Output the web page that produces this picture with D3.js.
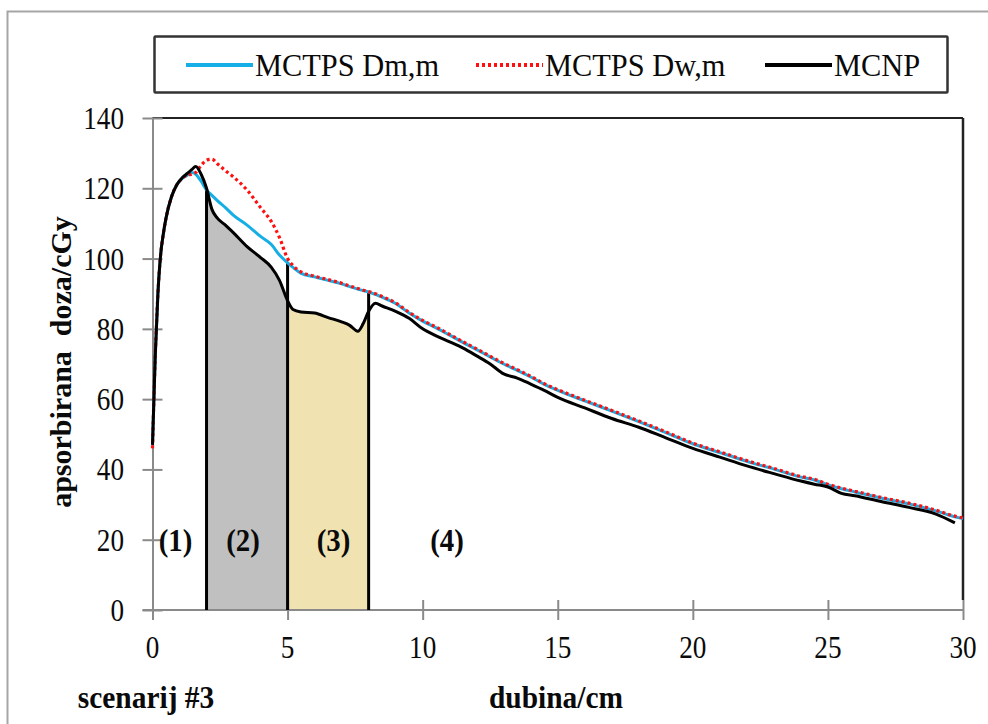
<!DOCTYPE html>
<html>
<head>
  <meta charset="utf-8">
  <title>scenarij #3 - apsorbirana doza</title>
  <script src="https://d3js.org/d3.v7.min.js"></script>
  <style>
    body { margin: 0; background: #fff; }
    svg text { fill: #0a0a0a; }
  </style>
</head>
<body>
  <div id="chart"></div>
  <script>
    // depth (cm) shared by all three series
    const depth = [0, 0.1, 0.2, 0.3, 0.4, 0.5, 0.7, 0.9, 1.1, 1.3, 1.45, 1.6, 1.8, 2.0, 2.2, 2.4, 2.7, 3.0, 3.5, 4.0,
      4.4, 4.7, 5.0, 5.2, 5.5, 6.0, 6.5, 7.0, 7.3, 7.6, 7.8, 8.0, 8.25, 8.5, 9.0, 9.5, 10, 10.5, 11, 11.5,
      12, 12.5, 13, 13.5, 14, 14.5, 15, 16, 17, 18, 19, 20, 21, 22, 23, 24, 24.5, 25, 25.5, 26,
      27, 28, 29, 29.7, 30];

    const mctpsDm = [47, 72, 90, 101, 107, 111.5, 117.5, 121, 122.8, 123.8, 124.5, 124, 122, 119.5, 118, 116.5, 114.5, 112.3, 109.5, 106.3,
      104, 101, 98.8, 97.5, 95.8, 94.8, 93.8, 92.8, 92, 91.3, 90.9, 90.5, 89.8, 89, 87.2, 84.5, 82.2, 80.3, 78.2, 76.1,
      74.1, 72, 70, 68.2, 66.3, 64.2, 62.5, 59.5, 56.6, 53.6, 50.5, 47.3, 44.8, 42.3, 40.1, 37.8, 37, 35.6, 34.5, 33.6,
      31.8, 30.2, 28.2, 26.5, 26];

    const mctpsDw = [46, 72, 90, 101, 107, 111.5, 117.5, 121, 122.8, 123.8, 124, 124.5, 126.5, 128, 128.3, 127, 125, 123.2, 119.5, 114.5,
      110.5, 106, 100, 98, 96.2, 95, 94, 93, 92.2, 91.5, 91, 90.6, 90, 89.2, 87.4, 84.7, 82.4, 80.5, 78.4, 76.3,
      74.3, 72.2, 70.2, 68.4, 66.5, 64.4, 62.7, 59.7, 56.8, 53.8, 50.7, 47.5, 45, 42.5, 40.3, 38, 37.2, 35.8, 34.7, 33.8,
      32, 30.4, 28.4, 26.7, 26.2];

    const mcnp = [47, 72, 90, 101, 107, 111.5, 117.5, 121, 123, 124.3, 125.3, 126.2, 124, 120, 114, 111.5, 109.5, 107.3, 103.4, 100.3,
      97.5, 93.8, 88, 85.5, 84.8, 84.5, 83.2, 82, 81, 79.3, 81.5, 85, 87.3, 86.5, 85, 83, 80, 78, 76.3, 74.5,
      72.3, 70, 67.2, 66, 64.3, 62.5, 60.5, 57.5, 54.5, 52, 49, 46, 43.5, 41, 38.8, 36.7, 35.8, 35, 33.2, 32.5,
      30.8, 29.2, 27.3, 24.8, null];

    const xTicks = [0, 5, 10, 15, 20, 25, 30];
    const yTicks = [0, 20, 40, 60, 80, 100, 120, 140];
    const layerBounds = [2, 5, 8];
    const regionLabels = ["(1)", "(2)", "(3)", "(4)"];
    const regionLabelX = [0.85, 3.35, 6.7, 10.9];
    const seriesNames = ["MCTPS Dm,m", "MCTPS Dw,m", "MCNP"];

    const width = 988, height = 724;
    const serif = "'Liberation Serif', 'Times New Roman', 'DejaVu Serif', serif";
    const svg = d3.select("#chart").append("svg").attr("width", width).attr("height", height);

    const x = d3.scaleLinear().domain([0, 30]).range([152.5, 963]);
    const y = d3.scaleLinear().domain([0, 140]).range([610, 118]);

    const blue = "#15aee6", red = "#ff1010", black = "#000";
    const axisGray = "#8a8a8a";

    // outer frame (only left and top visible)
    svg.append("path").attr("d", "M7.5,724V11.5H988").attr("fill", "none").attr("stroke", "#a6a6a6").attr("stroke-width", 2);

    const pts = name => depth.map((d, i) => ({ x: d, v: name[i] }));
    const black_pts = pts(mcnp);

    // shaded layers under the MCNP curve
    const area = d3.area().x(d => x(d.x)).y0(y(0)).y1(d => y(d.v)).curve(d3.curveMonotoneX);
    const fills = [["#c0c0c0", 2, 5], ["#f1e2b1", 5, 8]];
    fills.forEach(([c, a, b]) => {
      svg.append("path")
        .datum(black_pts.filter(d => d.x >= a && d.x <= b && d.v != null))
        .attr("d", area).attr("fill", c);
    });

    // plot frame top + right (black)
    svg.append("line").attr("x1", x(0)).attr("x2", x(30)).attr("y1", y(140)).attr("y2", y(140))
      .attr("stroke", "#222").attr("stroke-width", 2);
    svg.append("line").attr("x1", x(30)).attr("x2", x(30)).attr("y1", y(140)).attr("y2", y(0) - 10)
      .attr("stroke", "#222").attr("stroke-width", 2.5);

    // axes (gray lines with crossing ticks)
    const xAxis = svg.append("g").attr("transform", `translate(0,${y(0)})`)
      .call(d3.axisBottom(x).tickValues(xTicks).tickSize(10).tickSizeOuter(0).tickFormat(""));
    xAxis.selectAll(".tick line").attr("y1", -10);
    const yAxis = svg.append("g").attr("transform", `translate(${x(0)},0)`)
      .call(d3.axisLeft(y).tickValues(yTicks).tickSize(10).tickSizeOuter(0).tickFormat(""));
    yAxis.selectAll(".tick line").attr("x1", 10);
    svg.selectAll(".domain, .tick line").attr("stroke", axisGray).attr("stroke-width", 2);
    xAxis.select(".domain").attr("d", `M${x(0) - 10},0H${x(30)}`);

    // layer boundary lines
    layerBounds.forEach(b => {
      const i = depth.indexOf(b);
      const top = b === 2 ? mcnp[i] : mctpsDm[i];
      svg.append("line").attr("x1", x(b)).attr("x2", x(b)).attr("y1", y(0)).attr("y2", y(top))
        .attr("stroke", black).attr("stroke-width", 3);
    });

    // curves
    const line = d3.line().defined(d => d.v != null).x(d => x(d.x)).y(d => y(d.v)).curve(d3.curveMonotoneX);
    svg.append("path").datum(pts(mctpsDm)).attr("d", line).attr("fill", "none")
      .attr("stroke", blue).attr("stroke-width", 3);
    svg.append("path").datum(pts(mctpsDw)).attr("d", line).attr("fill", "none")
      .attr("stroke", red).attr("stroke-width", 3.2).attr("stroke-dasharray", "3,3");
    svg.append("path").datum(black_pts).attr("d", line).attr("fill", "none")
      .attr("stroke", black).attr("stroke-width", 3).attr("stroke-linejoin", "round");

    // condensed text helper (reference type is narrow)
    function label(txt, px, py, opts) {
      const o = Object.assign({ size: 32, sx: 0.85, anchor: "middle", bold: false }, opts);
      return svg.append("text")
        .attr("transform", `translate(${px},${py}) scale(${o.sx},1)`)
        .attr("text-anchor", o.anchor)
        .attr("font-family", serif)
        .attr("font-size", o.size)
        .attr("font-weight", o.bold ? "bold" : "normal")
        .text(txt);
    }

    yTicks.forEach(t => label(t, 124, y(t) + 11, { anchor: "end" }));
    xTicks.forEach(t => label(t, x(t), 658));

    regionLabels.forEach((t, i) => label(t, x(regionLabelX[i]), y(20) + 11, { bold: true, sx: 0.9 }));

    label("dubina/cm", 556, 708, { bold: true, sx: 0.92 });
    label("scenarij #3", 146, 708, { bold: true, sx: 0.92 });

    svg.append("text")
      .attr("transform", "translate(71,362) rotate(-90)")
      .attr("text-anchor", "middle").attr("font-size", 30).attr("font-weight", "bold")
      .attr("font-family", serif)
      .attr("xml:space", "preserve")
      .text("apsorbirana  doza/cGy");

    // legend
    const lg = svg.append("g");
    lg.append("rect").attr("x", 154.5).attr("y", 36.5).attr("width", 793).attr("height", 56)
      .attr("fill", "#fff").attr("stroke", "#333").attr("stroke-width", 2.5).attr("rx", 1);
    const legendX = [186, 476, 765];
    const legendStyle = [
      { stroke: blue, dash: null, w: 4 },
      { stroke: red, dash: "3,3", w: 4 },
      { stroke: black, dash: null, w: 4 }
    ];
    seriesNames.forEach((n, i) => {
      lg.append("line").attr("x1", legendX[i]).attr("x2", legendX[i] + 67).attr("y1", 65).attr("y2", 65)
        .attr("stroke", legendStyle[i].stroke).attr("stroke-width", legendStyle[i].w)
        .attr("stroke-dasharray", legendStyle[i].dash);
      label(n, legendX[i] + 69, 76, { anchor: "start", sx: 0.95 });
    });
  </script>
</body>
</html>
